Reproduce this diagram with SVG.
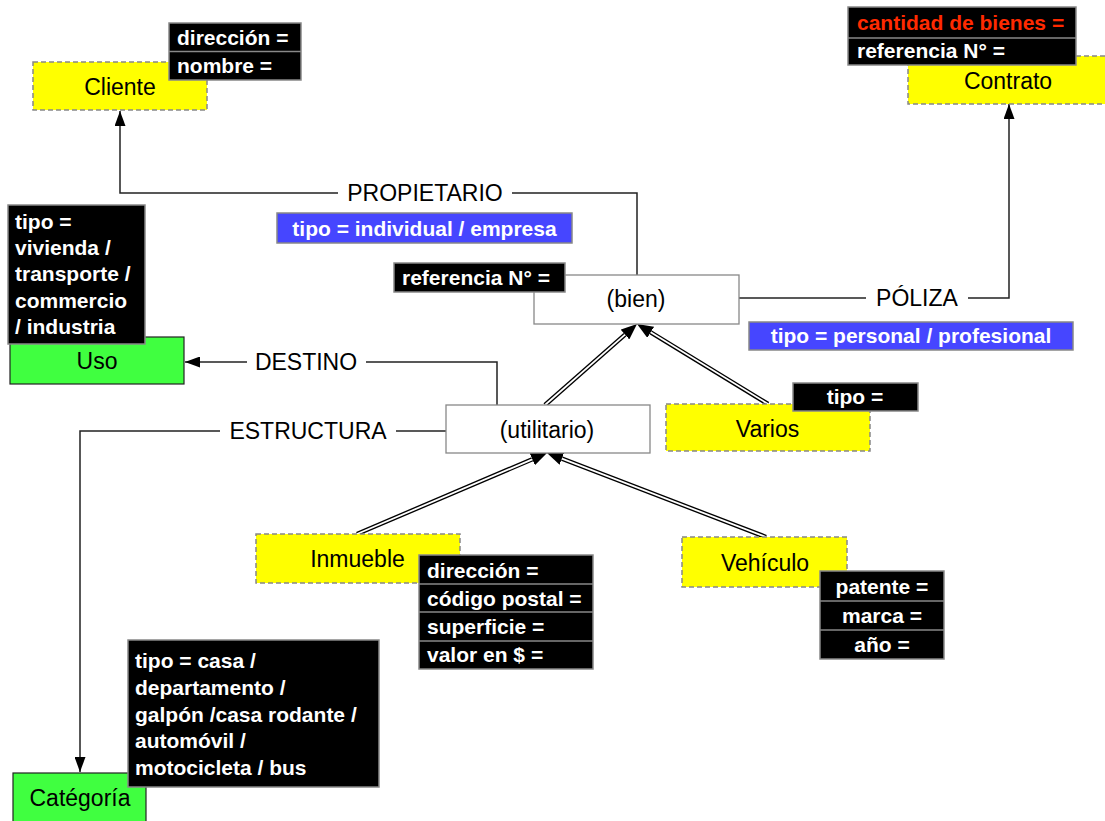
<svg xmlns="http://www.w3.org/2000/svg" width="1105" height="821" viewBox="0 0 1105 821">
<style>
.lbl{font-family:"Liberation Sans",Arial,sans-serif;font-size:23px;fill:#000}
.att{font-family:"Liberation Sans",Arial,sans-serif;font-size:21px;font-weight:bold;fill:#fff}
.yel{fill:#ffff00;stroke:#888;stroke-width:1.5;stroke-dasharray:5,3}
.grn{fill:#40ff40;stroke:#222;stroke-width:1.2}
.wht{fill:#fff;stroke:#888;stroke-width:1.3}
.blk{fill:#000;stroke:#888;stroke-width:1.5}
.blu{fill:#4646ff;stroke:#888;stroke-width:1.5}
.div{stroke:#888;stroke-width:1.5}
.con{fill:none;stroke:#222;stroke-width:1.5}
.gen{fill:none;stroke:#000;stroke-width:4.5}
.genw{fill:none;stroke:#fff;stroke-width:1.8}
</style>
<defs>
<marker id="arr" markerUnits="userSpaceOnUse" markerWidth="15" markerHeight="11" refX="15" refY="5.5" orient="auto"><path d="M0,0 L15,5.5 L0,11 z" fill="#000"/></marker>
<marker id="tri" markerUnits="userSpaceOnUse" markerWidth="16" markerHeight="13" refX="0" refY="6.5" orient="auto"><path d="M0,0 L16,6.5 L0,13 z" fill="#000"/></marker>
</defs>
<rect width="1105" height="821" fill="#fff"/>

<g id="connectors">
<path class="con" d="M637,275 V193 H512"/>
<path class="con" d="M338,193 H120 V111" marker-end="url(#arr)"/>
<path class="con" d="M739,298 H866"/>
<path class="con" d="M968,298 H1009 V104" marker-end="url(#arr)"/>
<path class="con" d="M497,405 V362 H366"/>
<path class="con" d="M247,362 H185" marker-end="url(#arr)"/>
<path class="con" d="M446,431 H396"/>
<path class="con" d="M220,431 H80 V772" marker-end="url(#arr)"/>
<path class="gen" d="M545,405 L625.0,334.6" marker-end="url(#tri)"/>
<path class="genw" d="M545,405 L625.0,334.6"/>
<path class="gen" d="M768,404 L650.7,332.3" marker-end="url(#tri)"/>
<path class="genw" d="M768,404 L650.7,332.3"/>
<path class="gen" d="M357,534 L532.3,459.3" marker-end="url(#tri)"/>
<path class="genw" d="M357,534 L532.3,459.3"/>
<path class="gen" d="M766,537 L561.9,458.7" marker-end="url(#tri)"/>
<path class="genw" d="M766,537 L561.9,458.7"/>
<text class="lbl" x="425" y="201" text-anchor="middle">PROPIETARIO</text>
<text class="lbl" x="917" y="306" text-anchor="middle">PÓLIZA</text>
<text class="lbl" x="306" y="370" text-anchor="middle">DESTINO</text>
<text class="lbl" x="308" y="439" text-anchor="middle">ESTRUCTURA</text>
<rect class="blu" x="277" y="213" width="295" height="30"/>
<text class="att" x="424.5" y="236" text-anchor="middle">tipo = individual / empresa</text>
<rect class="blu" x="749" y="322" width="324" height="28"/>
<text class="att" x="911" y="343" text-anchor="middle">tipo = personal / profesional</text>
</g>

<g id="cliente">
<rect class="yel" x="33" y="62" width="174" height="48"/>
<text class="lbl" x="120" y="95" text-anchor="middle">Cliente</text>
<rect class="blk" x="169" y="23" width="132" height="57"/>
<line class="div" x1="169" y1="51.5" x2="301" y2="51.5"/>
<text class="att" x="177" y="45">dirección =</text>
<text class="att" x="177" y="73">nombre =</text>
</g>

<g id="contrato">
<rect class="yel" x="908" y="56" width="205" height="48"/>
<text class="lbl" x="1008" y="89" text-anchor="middle">Contrato</text>
<rect class="blk" x="848" y="7" width="228" height="58"/>
<line class="div" x1="848" y1="38" x2="1076" y2="38"/>
<text class="att" x="857" y="30" style="fill:#ff2a00">cantidad de bienes =</text>
<text class="att" x="857" y="58">referencia N° =</text>
</g>

<g id="bien">
<rect class="wht" x="534" y="275" width="205" height="49"/>
<text class="lbl" x="636" y="307" text-anchor="middle">(bien)</text>
<rect class="blk" x="394" y="263" width="171" height="29"/>
<text class="att" x="402" y="285">referencia N° =</text>
</g>

<g id="uso">
<rect class="grn" x="10" y="337" width="174" height="47"/>
<text class="lbl" x="97" y="369" text-anchor="middle">Uso</text>
<rect class="blk" x="8" y="205" width="137" height="139"/>
<text class="att" x="15" y="229">tipo =</text>
<text class="att" x="15" y="255">vivienda /</text>
<text class="att" x="15" y="281">transporte /</text>
<text class="att" x="15" y="308">commercio</text>
<text class="att" x="15" y="334">/ industria</text>
</g>

<g id="utilitario">
<rect class="wht" x="446" y="405" width="204" height="48"/>
<text class="lbl" x="547" y="438" text-anchor="middle">(utilitario)</text>
</g>

<g id="varios">
<rect class="yel" x="666" y="404" width="204" height="47"/>
<text class="lbl" x="767.5" y="437" text-anchor="middle">Varios</text>
<rect class="blk" x="793" y="383" width="125" height="28"/>
<text class="att" x="855" y="404" text-anchor="middle">tipo =</text>
</g>

<g id="inmueble">
<rect class="yel" x="256" y="534" width="204" height="49"/>
<text class="lbl" x="357.5" y="567" text-anchor="middle">Inmueble</text>
<rect class="blk" x="419" y="555" width="174" height="114"/>
<line class="div" x1="419" y1="584" x2="593" y2="584"/>
<line class="div" x1="419" y1="612" x2="593" y2="612"/>
<line class="div" x1="419" y1="641" x2="593" y2="641"/>
<text class="att" x="427" y="578">dirección =</text>
<text class="att" x="427" y="606">código postal =</text>
<text class="att" x="427" y="634">superficie =</text>
<text class="att" x="427" y="662">valor en $ =</text>
</g>

<g id="vehiculo">
<rect class="yel" x="682" y="537" width="165" height="50"/>
<text class="lbl" x="765" y="571" text-anchor="middle">Vehículo</text>
<rect class="blk" x="820" y="571" width="124" height="88"/>
<line class="div" x1="820" y1="601" x2="944" y2="601"/>
<line class="div" x1="820" y1="630" x2="944" y2="630"/>
<text class="att" x="882" y="594" text-anchor="middle">patente =</text>
<text class="att" x="882" y="623" text-anchor="middle">marca =</text>
<text class="att" x="882" y="652" text-anchor="middle">año =</text>
</g>

<g id="categoria">
<rect class="grn" x="13" y="773" width="133" height="55"/>
<text class="lbl" x="80" y="806" text-anchor="middle">Catégoría</text>
<rect class="blk" x="128" y="640" width="251" height="147"/>
<text class="att" x="135" y="668">tipo = casa /</text>
<text class="att" x="135" y="695">departamento /</text>
<text class="att" x="135" y="722">galpón /casa rodante /</text>
<text class="att" x="135" y="748">automóvil /</text>
<text class="att" x="135" y="775">motocicleta / bus</text>
</g>
</svg>
